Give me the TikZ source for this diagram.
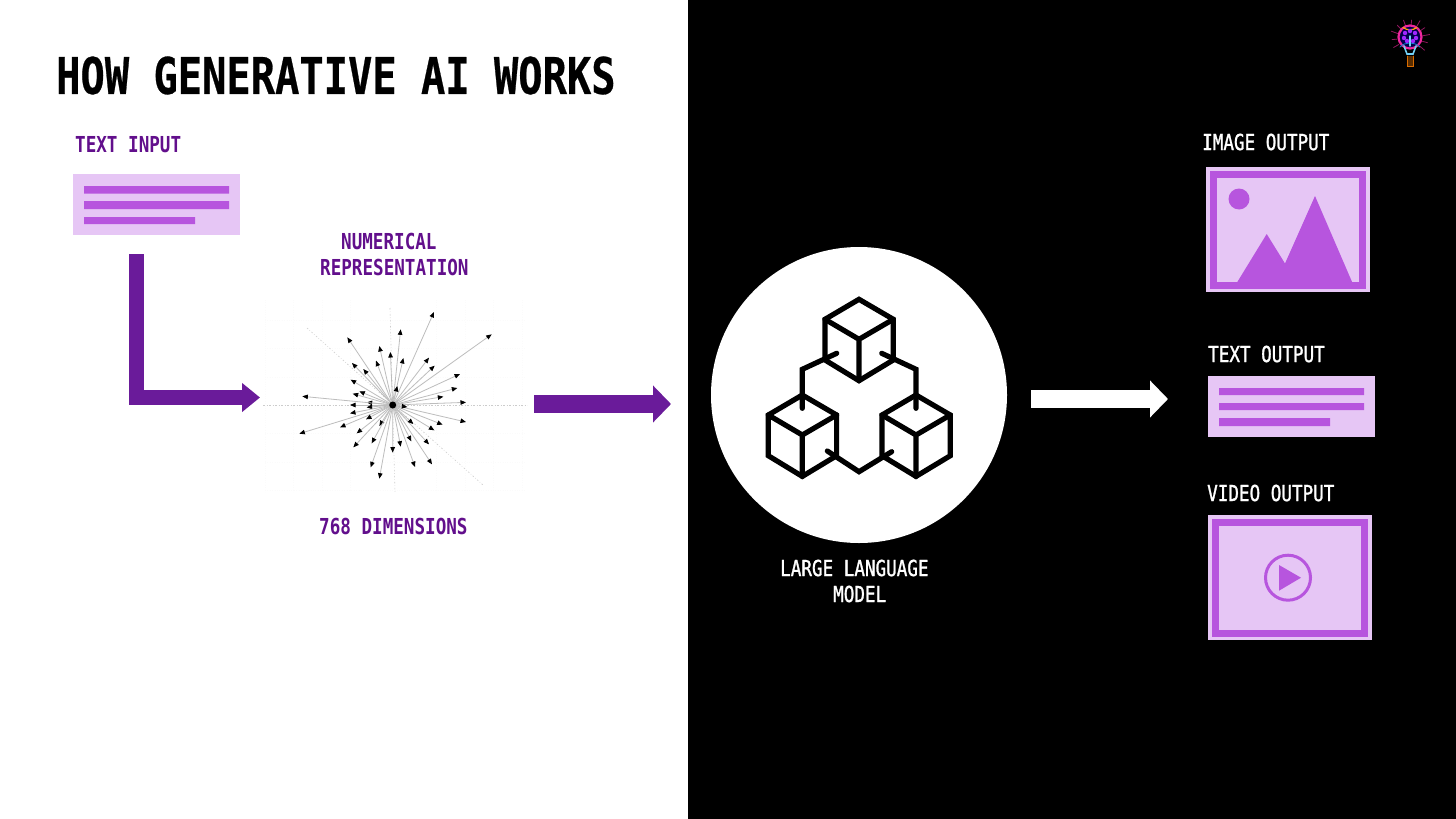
\documentclass[tikz,border=0pt]{standalone}
\usepackage{fontspec}
\usetikzlibrary{arrows.meta}
\newfontfamily\lbltitle[FakeStretch=0.8,FakeBold=0.5]{DejaVu Sans Mono Bold}
\newfontfamily\lblbold[FakeStretch=0.8]{DejaVu Sans Mono Bold}
\newfontfamily\lblbook[FakeStretch=0.8,FakeBold=1.2]{DejaVu Sans Mono}
\definecolor{lightp}{HTML}{E6C6F5}
\definecolor{midp}{HTML}{B755DE}
\definecolor{darkp}{HTML}{6A1B9A}
\definecolor{textp}{HTML}{620F8C}
\tikzset{
  x=1pt,y=-1pt,
  title/.style={anchor=west,inner sep=0,font=\lbltitle\fontsize{50.5}{50}\selectfont,text=black},
  plabel/.style={anchor=west,inner sep=0,font=\lblbold\fontsize{22}{22}\selectfont,text=textp},
  wlabel/.style={anchor=west,inner sep=0,font=\lblbook\fontsize{22}{22}\selectfont,text=white},
  fat/.style={line width=#1,line cap=butt,-{Triangle[length=18pt,width=36pt]}},
  fan/.style={draw=black!26,line width=0.8pt,-{Triangle[length=5.5pt,width=4.5pt,black]}},
  axis/.style={draw=black!20,line width=0.6pt,dash pattern=on 1.5pt off 2pt on 0.5pt off 2pt},
  cube/.style={draw=black,line width=5.2pt,line join=miter,line cap=round},
}
\newcommand{\cubeat}[2]{%
  \draw[cube,shift={(#1,#2)}] (0,-40) -- (34.3,-20) -- (34.3,20.7) -- (0,41.4) -- (-34,20.7) -- (-34,-20) -- cycle;
  \draw[cube,shift={(#1,#2)}] (-34,-20) -- (0,0) -- (34.3,-20) (0,0) -- (0,41.4);
}
\begin{document}
\begin{tikzpicture}
\useasboundingbox (0,0) rectangle (1456,819);
\fill[white] (0,0) rectangle (688,819);
\fill[black] (688,0) rectangle (1456,819);

% title and labels
\node[title] (title) at (56,75.5) {HOW GENERATIVE AI WORKS};
\node[plabel] (lin) at (75,145) {TEXT INPUT};
\node[plabel] (lnum) at (341,241) {NUMERICAL};
\node[plabel] (lrep) at (320,267) {REPRESENTATION};
\node[plabel] (ldim) at (319,526) {768 DIMENSIONS};
\node[wlabel] (limg) at (1202,142) {IMAGE OUTPUT};
\node[wlabel] (ltxt) at (1208,354) {TEXT OUTPUT};
\node[wlabel] (lvid) at (1207,493) {VIDEO OUTPUT};
\node[wlabel] (lllm) at (780,568) {LARGE LANGUAGE};
\node[wlabel] (lmod) at (833,594) {MODEL};

% text input
\fill[lightp] (73,174) rectangle (240,235);
\fill[midp] (84,186) rectangle (229,193.5) (84,201) rectangle (229,209) (84,217) rectangle (195,224);

% faint grid
\begin{scope}[draw=black!1.5,line width=0.4pt,dotted]
\foreach \g in {320,348,377,433,462,490} \draw (265,\g) -- (526,\g);
\foreach \g in {265,293,322,350,436,465,493,522} \draw (\g,300) -- (\g,492);
\end{scope}

% fan
\draw[axis] (263,405) -- (527,405);
\draw[axis] (390,308) -- (395,493);
\draw[axis] (307,328) -- (483,485);
\node[circle,fill=black,minimum size=7pt,inner sep=0] (hub) at (392.7,405) {};
\foreach \a/\b in {552/66,725/133,452/118,388/168,421/186,460/204,292/142,378/212,306/219,340/237,537/203,554/227,630/252,622/294,580/320,648/337,442/288,302/269,308/311,328/304,350/337,300/345,350/352,300/370,157/319,148/431,270/412,348/388,320/430,388/408,310/472,365/460,362/532,388/566,428/488,452/470,495/531,484/454,546/523,537/463,490/402,553/421,578/404,648/396,472/351}
  \draw[fan] (hub.center) -- ({250+\a/3},{290+\b/3});
\node[circle,fill=black,minimum size=7pt,inner sep=0] at (hub) {};

% purple arrows
\coordinate (e1) at (136.5,254);
\coordinate (e2) at (260,397.5);
\draw[line width=15pt,draw=darkp,line join=miter,-{Triangle[length=18pt,width=28pt,darkp]}] (e1) |- (e2);
\coordinate (a1) at (534,404);
\coordinate (a2) at (671,404);
\draw[fat=18pt,draw=darkp] (a1) -- (a2);

% LLM
\node[circle,fill=white,minimum size=296pt,inner sep=0] (llm) at (859,395) {};
\cubeat{859}{339.3}
\cubeat{802.3}{435}
\cubeat{916}{435}
\draw[cube] (836.7,353.3) -- (802.3,369.3) -- (802.3,408.3);
\draw[cube] (881.7,353.3) -- (916,369.3) -- (916,408.3);
\draw[cube] (827.3,451) -- (859,471.7) -- (891.7,451.7);

% white arrow
\coordinate (w1) at (1031,399);
\coordinate (w2) at (1168,399);
\draw[fat=18pt,draw=white] (w1) -- (w2);

% image output
\fill[lightp] (1206,167) rectangle (1370,292);
\fill[midp] (1210,171) rectangle (1366,289);
\fill[lightp] (1217,178) rectangle (1359,282);
\fill[midp] (1239,199) circle (10.5);
\fill[midp] (1236.7,283) -- (1266.7,234) -- (1285,263.5) -- (1315,196) -- (1352.5,283) -- cycle;

% text output
\fill[lightp] (1208,376) rectangle (1375,437);
\fill[midp] (1219,388) rectangle (1364,395) (1219,403) rectangle (1364,410) (1219,418) rectangle (1330,426);

% video output
\fill[lightp] (1208,515) rectangle (1372,640);
\fill[midp] (1212,519) rectangle (1368,637);
\fill[lightp] (1219,526) rectangle (1361,630);
\draw[midp,line width=3pt] (1288,577.7) circle (22.5);
\fill[midp] (1279,565) -- (1301,577.7) -- (1279,590.7) -- cycle;

% bulb
\begin{scope}[line cap=round]
\foreach \r/\l in {-85/5,-60/7,-35/5,-10/7,15/5,40/6,-110/6,-135/5,-160/7,175/5,150/6}
  \draw[magenta!85!white,line width=0.8pt,opacity=.6] (1410,38) ++(\r:13) -- ++(\r:\l);
\fill[black!70!blue] (1410,37) circle (11);
\draw[magenta!85!white,line width=2.2pt] (1410,37) circle (11.5);
\draw[orange!70!yellow,line width=1.2pt] (1403,27.5) arc (127:53:11.5);
\draw[cyan!70!blue,line width=.8pt] (1400,47) arc (225:315:14);
\foreach \dx/\dy in {-5/-4,0/-6,5/-4,-6/1,6/1,-3/4,3/4}
  \fill[blue!45!magenta!85!white] (1410+\dx,37+\dy) circle (2.2);
\draw[cyan!55!white,line width=1.4pt] (1410,36) -- (1410,46);
\draw[cyan!55!white,line width=1.6pt] (1404,46) -- (1407,54) -- (1413,54) -- (1416,46);
\fill[orange!35!black] (1407,56) rectangle (1413,66);
\draw[orange!85!black,line width=.7pt] (1407,56) -- (1407,66) -- (1413,66) -- (1413,56);
\end{scope}
\end{tikzpicture}
\end{document}
